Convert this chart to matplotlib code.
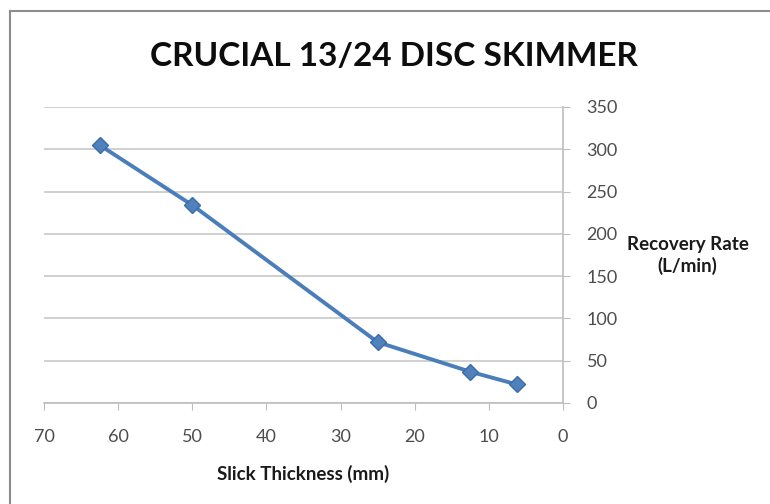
import matplotlib
matplotlib.use("Agg")
import matplotlib.pyplot as plt
from matplotlib.lines import Line2D

# data
thickness_mm = [62.5, 50, 25, 12.5, 6.25]
recovery_rate = [305, 234, 72, 37, 22]
x_ticks = [70, 60, 50, 40, 30, 20, 10, 0]
y_ticks = [0, 50, 100, 150, 200, 250, 300, 350]

plt.rcParams['font.family'] = ['Lato', 'DejaVu Sans']

fig = plt.figure(figsize=(7.7, 5.04), dpi=100)
ax = fig.add_axes([0.0571, 0.2004, 0.6740, 0.5873])

line_col = '#4a7ebb'
ax.plot(thickness_mm, recovery_rate, color=line_col, linewidth=2.8,
        marker='D', markersize=8.5, markerfacecolor='#4f81bd',
        markeredgecolor='#3c6ca8', zorder=3)

ax.set_xlim(70, 0)
ax.set_ylim(0, 350)
ax.set_xticks(x_ticks)
ax.set_yticks(y_ticks)

ax.yaxis.tick_right()
ax.grid(axis='y', color='#c8c8c8', linewidth=1.2)
ax.set_axisbelow(True)

for s in ['top', 'left']:
    ax.spines[s].set_visible(False)
for s in ['bottom', 'right']:
    ax.spines[s].set_color('#bdbdbd')
    ax.spines[s].set_linewidth(1.2)

ax.tick_params(axis='x', direction='out', length=5, color='#bdbdbd',
               labelsize=13, labelcolor='#4d4d4d', pad=14)
ax.tick_params(axis='y', direction='out', length=5, color='#bdbdbd',
               labelsize=13, labelcolor='#4d4d4d', pad=12)

ax.set_xlabel('Slick Thickness (mm)', fontsize=13.5, fontweight='bold',
              labelpad=14, color='#1a1a1a')

fig.text(0.893, 0.493, 'Recovery Rate\n(L/min)', fontsize=13.5,
         fontweight='bold', ha='center', va='center', color='#1a1a1a',
         linespacing=1.3)

fig.text(0.511, 0.887, 'CRUCIAL 13/24 DISC SKIMMER', fontsize=24,
         fontweight='bold', ha='center', va='center', color='#0d0d0d')

# chart frame (left and top edges visible in the reference)
fig.add_artist(Line2D([10 / 770, 10 / 770], [0, 1 - 11 / 504],
                      transform=fig.transFigure, color='#8c8c8c', linewidth=1.5))
fig.add_artist(Line2D([10 / 770, 1], [1 - 11 / 504, 1 - 11 / 504],
                      transform=fig.transFigure, color='#8c8c8c', linewidth=1.5))

fig.savefig('out.png', dpi=100)
